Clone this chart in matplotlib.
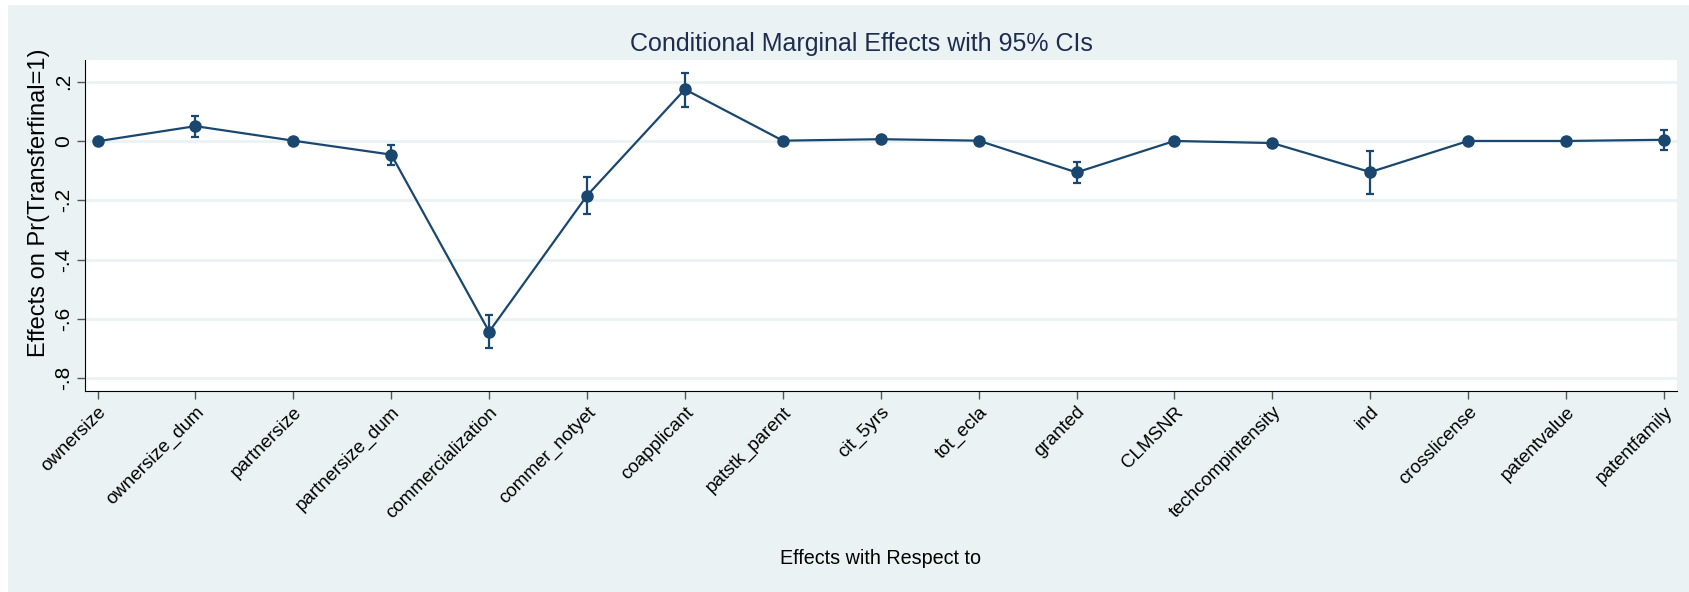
import numpy as np
import matplotlib
matplotlib.use("Agg")
import matplotlib.pyplot as plt
from matplotlib.patches import Rectangle

# data
variables = ["ownersize", "ownersize_dum", "partnersize", "partnersize_dum",
             "commercialization", "commer_notyet", "coapplicant", "patstk_parent",
             "cit_5yrs", "tot_ecla", "granted", "CLMSNR", "techcompintensity",
             "ind", "crosslicense", "patentvalue", "patentfamily"]
effects = [-0.001, 0.050, 0.001, -0.046, -0.643, -0.184, 0.174, 0.001,
           0.006, 0.001, -0.106, 0.000, -0.007, -0.105, 0.000, 0.000, 0.004]
ci_low = [-0.003, 0.015, -0.001, -0.080, -0.699, -0.245, 0.116, -0.001,
          0.004, -0.001, -0.143, -0.002, -0.009, -0.178, -0.002, -0.007, -0.030]
ci_high = [0.001, 0.085, 0.003, -0.013, -0.586, -0.121, 0.229, 0.003,
           0.008, 0.003, -0.071, 0.002, -0.005, -0.033, 0.002, 0.007, 0.037]
yticks = [0.2, 0, -0.2, -0.4, -0.6, -0.8]
ytick_labels = [".2", "0", "-.2", "-.4", "-.6", "-.8"]

navy = "#1a476f"
panel = "#eaf2f3"

plt.rcParams['font.family'] = ['Liberation Sans', 'DejaVu Sans']

W, H = 1690, 592
fig = plt.figure(figsize=(W / 100, H / 100), dpi=100, facecolor="white")
fig.patches.append(Rectangle((8 / W, 0), 1 - 8 / W, 1 - 5 / H,
                             transform=fig.transFigure, facecolor=panel,
                             edgecolor="none", zorder=-10))

ax = fig.add_axes([85.3 / W, (H - 391) / H, (1676.7 - 85.3) / W, (391 - 60) / H])
ax.set_facecolor("white")

x = np.arange(len(variables))
eff = np.array(effects)
yerr = [eff - np.array(ci_low), np.array(ci_high) - eff]
ax.errorbar(x, eff, yerr=yerr, fmt='o-', color=navy, lw=1.6, ms=8,
            elinewidth=1.6, capsize=3.2, capthick=1.6, zorder=3)

ax.set_xlim(-0.125, 16.13)
ax.set_ylim(-0.843, 0.273)

ax.set_yticks(yticks)
ax.set_yticklabels(ytick_labels, rotation=90, va="center", fontsize=15)
ax.yaxis.grid(True, color=panel, lw=2, zorder=0)
ax.set_axisbelow(True)

ax.set_xticks(x)
ax.set_xticklabels(variables, rotation=45, ha="right", rotation_mode="anchor",
                   fontsize=13.5)
ax.tick_params(axis="both", direction="out", length=6, width=1, color="#555555")
ax.tick_params(axis="y", pad=3)
ax.tick_params(axis="x", pad=3)

for s in ["top", "right"]:
    ax.spines[s].set_visible(False)
ax.spines["left"].set_color("black")
ax.spines["bottom"].set_color("black")

ax.set_ylabel("Effects on Pr(Transferfinal=1)", fontsize=17, va="center")
ax.yaxis.set_label_coords((39 - 85.3) / (1676.7 - 85.3), (391 - 203) / (391 - 60))
ax.set_xlabel("Effects with Respect to", fontsize=14.2, va="center")
ax.xaxis.set_label_coords(0.5, (391 - 558) / (391 - 60))

fig.text(861 / W, 1 - 44 / H, "Conditional Marginal Effects with 95% CIs",
         fontsize=18, color="#1e2d4f", ha="center", va="center")

fig.savefig("out.png", dpi=100, facecolor=fig.get_facecolor())
